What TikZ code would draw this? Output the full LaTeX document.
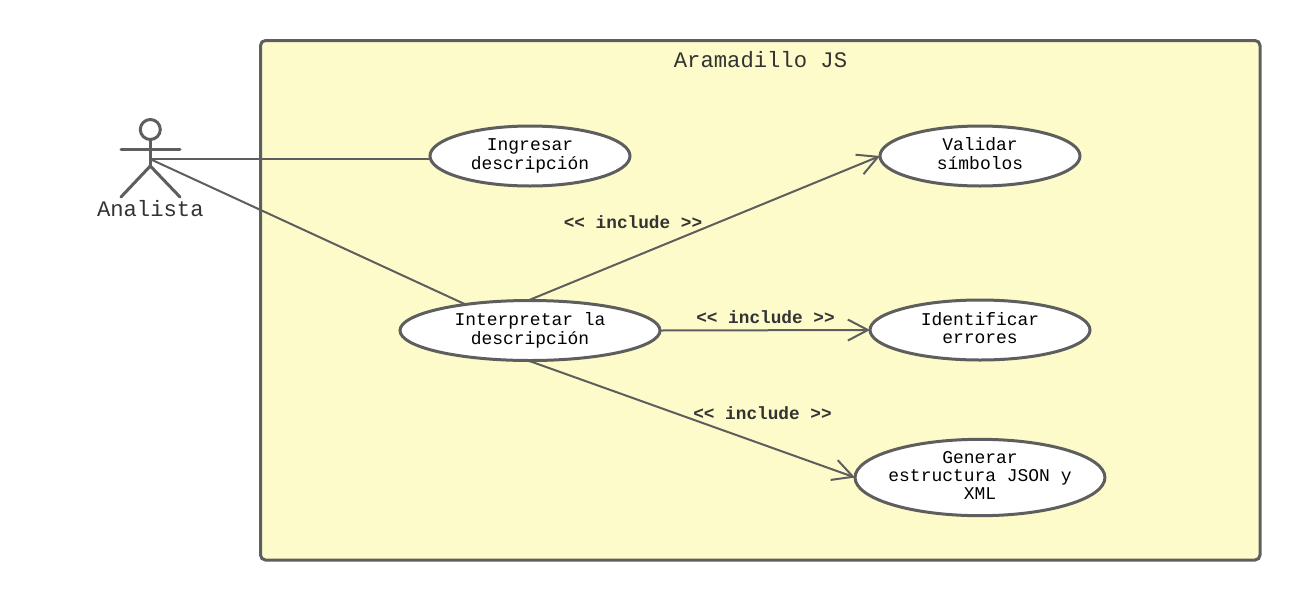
\documentclass[tikz,border=0pt]{standalone}
\usepackage{fontspec}
\setmainfont{Liberation Mono}
\usetikzlibrary{shapes.geometric,arrows.meta}
\definecolor{linegray}{HTML}{5E5E5E}
\definecolor{boxfill}{HTML}{FCFBC9}
\definecolor{labelgray}{HTML}{333333}
\newcommand{\lstrut}{\rule[-5pt]{0pt}{18pt}}
\tikzset{
  usecase/.style={ellipse,draw=linegray,line width=3pt,fill=white,inner sep=0pt,outer sep=0pt,align=center,
    text=black,font=\fontsize{17.95}{18}\selectfont},
  link/.style={draw=linegray,line width=2pt},
  incl/.style={link,-{Straight Barb[length=20pt,width=21pt,line width=2pt]}},
  incllabel/.style={text=labelgray,font=\fontsize{17.75}{18}\selectfont\bfseries,inner sep=0pt},
  actorline/.style={draw=linegray,line width=3pt,line cap=round},
  biglabel/.style={text=labelgray,font=\fontsize{22.2}{24}\selectfont,inner sep=0pt}
}
\begin{document}
\begin{tikzpicture}[x=1pt,y=-1pt]
\useasboundingbox (0,0) rectangle (1300,600);
\fill[white] (0,0) rectangle (1300,600);
\draw[draw=linegray,fill=boxfill,line width=3pt,rounded corners=5pt] (260.5,40.5) rectangle (1260,560);
\node[biglabel] (title) at (760.5,60) {Aramadillo JS};
% actor
\draw[actorline] (150.3,129.5) circle (10);
\draw[actorline] (150.3,139.5) -- (150.3,166);
\draw[actorline] (121,149.5) -- (180,149.5);
\draw[actorline] (121,197) -- (150.3,166) -- (180,197);
\node[biglabel] (actorlabel) at (150.3,209) {Analista};
\coordinate (actor) at (150,159);
% use cases
\node[usecase,minimum width=200pt,minimum height=60pt] (ing) at (530,156) {Ingresar\lstrut\\descripción\lstrut};
\node[usecase,minimum width=200pt,minimum height=60pt] (val) at (980,156) {Validar\lstrut\\símbolos\lstrut};
\node[usecase,minimum width=260pt,minimum height=60pt] (int) at (530,330.5) {Interpretar la\lstrut\\descripción\lstrut};
\node[usecase,minimum width=220pt,minimum height=60pt] (ide) at (980,330) {Identificar\lstrut\\errores\lstrut};
\node[usecase,inner xsep=-3.2pt,minimum height=73pt] (gen) at (980,477.5) {Generar\lstrut\\estructura JSON y\lstrut\\XML\lstrut};
% connectors
\draw[link] (actor) -- ([yshift=-3pt]ing.west);
\draw[link] (actor) -- (int.158);
\draw[incl] ([xshift=-2pt]int.north) -- (val.west);
\draw[incl] (int.east) -- (ide.west);
\draw[incl] ([xshift=-2pt]int.south) -- (gen.west);
% labels
\node[incllabel] (l1) at (633,222) {<{}< include >{}>};
\node[incllabel] (l2) at (765.5,317) {<{}< include >{}>};
\node[incllabel] (l3) at (762.5,413) {<{}< include >{}>};
\end{tikzpicture}
\end{document}
